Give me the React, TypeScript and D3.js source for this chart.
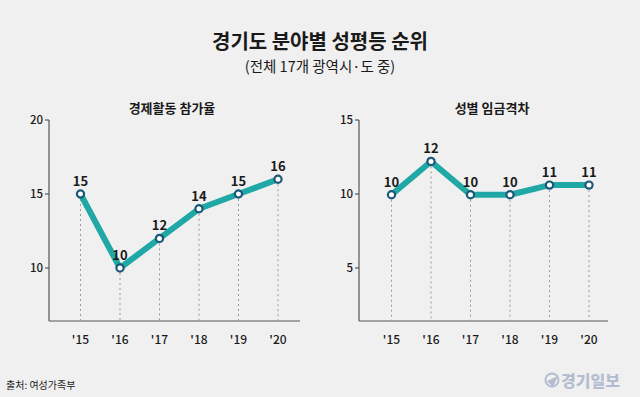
import { useEffect } from "react";
import * as d3 from "d3";

const years = ["'15", "'16", "'17", "'18", "'19", "'20"];

// 경제활동 참가율
const econValues = [15, 10, 12, 14, 15, 16];
const econLabels = ["15", "10", "12", "14", "15", "16"];
const econTicks = [10, 15, 20];

// 성별 임금격차 (plotted positions)
const wageValues = [9.95, 12.2, 9.95, 9.95, 10.6, 10.6];
const wageLabels = ["10", "12", "10", "10", "11", "11"];
const wageTicks = [5, 10, 15];

const W = 640;
const H = 397;
const FONT = "'Noto Sans CJK KR', 'Noto Sans', sans-serif";
const BG = "#f0f0f0";
const LINE = "#1fa8a6";
const DOT = "#1b5878";

interface PanelProps {
  title: string;
  values: number[];
  labels: string[];
  ticks: number[];
  axisX: number;
  axisEnd: number;
  firstX: number;
  lastX: number;
  titleX: number;
}

function Panel({ title, values, labels, ticks, axisX, axisEnd, firstX, lastX, titleX }: PanelProps) {
  const top = 120;
  const bottom = 321;
  const hi = d3.max(ticks)!;
  const lo = d3.min(ticks)!;
  // 10 units of ticks span 148px
  const y = d3.scaleLinear().domain([lo, hi]).range([268, top]);
  const x = d3.scalePoint<string>().domain(years).range([firstX, lastX]);

  const line = d3
    .line<number>()
    .x((_, i) => x(years[i])!)
    .y((d) => y(d));

  return (
    <g>
      <text x={titleX} y={113} textAnchor="middle" fontSize={13} fontWeight={700} fill="#1a1a1a">
        {title}
      </text>
      {/* axes */}
      <line x1={axisX} x2={axisX} y1={top} y2={bottom} stroke="#555" strokeWidth={1.2} />
      <line x1={axisX} x2={axisEnd} y1={bottom} y2={bottom} stroke="#555" strokeWidth={1.2} />
      {ticks.map((t) => (
        <g key={t}>
          <line x1={axisX - 4} x2={axisX} y1={y(t)} y2={y(t)} stroke="#555" strokeWidth={1.2} />
          <text x={axisX - 6} y={y(t) + 4} textAnchor="end" fontSize={11.5} fontWeight={500} fill="#1a1a1a">
            {t}
          </text>
        </g>
      ))}
      {/* drop lines */}
      {values.map((v, i) => (
        <line
          key={i}
          x1={x(years[i])}
          x2={x(years[i])}
          y1={y(v)}
          y2={bottom}
          stroke="#9a9a9a"
          strokeWidth={1}
          strokeDasharray="2,3"
        />
      ))}
      <path d={line(values) || ""} fill="none" stroke={LINE} strokeWidth={6} strokeLinejoin="round" />
      {values.map((v, i) => (
        <circle key={i} cx={x(years[i])} cy={y(v)} r={3.6} fill="#fff" stroke={DOT} strokeWidth={2.2} />
      ))}
      {values.map((v, i) => (
        <text
          key={i}
          x={x(years[i])}
          y={y(v) - 8}
          textAnchor="middle"
          fontSize={13}
          fontWeight={600}
          fill="#1a1a1a"
        >
          {labels[i]}
        </text>
      ))}
      {years.map((yr) => (
        <text key={yr} x={x(yr)} y={344} textAnchor="middle" fontSize={12} fontWeight={500} fill="#1a1a1a">
          {yr}
        </text>
      ))}
    </g>
  );
}

export default function App() {
  useEffect(() => {
    document.body.style.margin = "0";
  }, []);

  return (
    <svg width={W} height={H} style={{ display: "block", fontFamily: FONT }}>
      <rect width={W} height={H} fill={BG} />
      <text x={W / 2} y={49} textAnchor="middle" fontSize={20} fontWeight={700} fill="#1a1a1a">
        경기도 분야별 성평등 순위
      </text>
      <text x={W / 2} y={72} textAnchor="middle" fontSize={14.5} fill="#1a1a1a">
        (전체 17개 광역시·도 중)
      </text>
      <Panel
        title="경제활동 참가율"
        values={econValues}
        labels={econLabels}
        ticks={econTicks}
        axisX={49}
        axisEnd={300}
        firstX={80.5}
        lastX={278}
        titleX={172}
      />
      <Panel
        title="성별 임금격차"
        values={wageValues}
        labels={wageLabels}
        ticks={wageTicks}
        axisX={359}
        axisEnd={608}
        firstX={391.5}
        lastX={589}
        titleX={492}
      />
      <text x={6} y={389} fontSize={10} fill="#1a1a1a">
        출처: 여성가족부
      </text>
      <g>
        <circle cx={552} cy={380} r={6.5} fill="none" stroke="#b4bdd0" strokeWidth={2} />
        <path d="M547,381 L558,376 L553,387 Z" fill="#b4bdd0" />
        <text x={561} y={387} fontSize={16} fontWeight={800} fill="#b4bdd0">
          경기일보
        </text>
      </g>
    </svg>
  );
}
